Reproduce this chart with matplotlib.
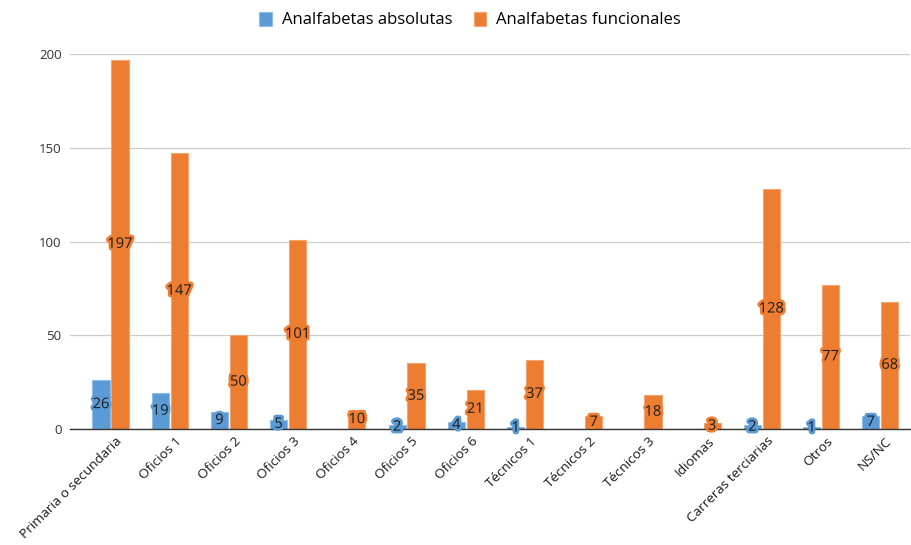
"""
Grouped bars: analfabetas absolutas vs funcionales por formación
"""
import matplotlib
matplotlib.use('Agg')
import matplotlib.pyplot as plt
import matplotlib.patheffects as pe
import matplotlib.transforms as mtransforms
import numpy as np

plt.rcParams.update({
    'font.family': ['Open Sans', 'DejaVu Sans'],
    'font.size': 10,
    'axes.spines.top': False,
    'axes.spines.right': False,
    'axes.spines.left': False,
})

BLUE = '#5B9BD5'
ORANGE = '#ED7D31'

# ── Data ────────────────────────────────────────────────────
categories = ['Primaria o secundaria', 'Oficios 1', 'Oficios 2', 'Oficios 3',
              'Oficios 4', 'Oficios 5', 'Oficios 6', 'Técnicos 1', 'Técnicos 2',
              'Técnicos 3', 'Idiomas', 'Carreras terciarias', 'Otros', 'NS/NC']
absolutas = [26, 19, 9, 5, 0, 2, 4, 1, 0, 0, 0, 2, 1, 7]
funcionales = [197, 147, 50, 101, 10, 35, 21, 37, 7, 18, 3, 128, 77, 68]

fig = plt.figure(figsize=(9.11, 5.45), dpi=100)
ax = fig.add_axes([0.0768, 0.2128, 0.922, 0.688])

x = np.arange(len(categories))
w = 0.29
off = 0.16
b1 = ax.bar(x - off, absolutas, w, color=BLUE, edgecolor='#8fbbe5', linewidth=0.8,
            label='Analfabetas absolutas', zorder=3)
b2 = ax.bar(x + off, funcionales, w, color=ORANGE, edgecolor='#f3a470', linewidth=0.8,
            label='Analfabetas funcionales', zorder=3)

for bars, vals, col in [(b1, absolutas, BLUE), (b2, funcionales, ORANGE)]:
    for bar, val in zip(bars, vals):
        if val == 0:
            continue
        ax.text(bar.get_x() + bar.get_width() / 2, val / 2, f'{val}',
                ha='center', va='center', fontsize=10.5, color='#1a1a1a', zorder=5,
                path_effects=[pe.withStroke(linewidth=4, foreground=col)])

ax.set_xlim(-0.685, 13.5)
ax.set_ylim(0, 200)
ax.set_yticks([0, 50, 100, 150, 200])
ax.yaxis.grid(True, color='#cccccc', linewidth=0.9)
ax.set_axisbelow(True)
ax.tick_params(axis='y', length=0, labelsize=9.5, colors='#333333', pad=6)
ax.tick_params(axis='x', length=0, labelsize=9.7, colors='#1a1a1a', pad=4)
ax.set_xticks(x)
ax.set_xticklabels(categories, rotation=45, ha='right', rotation_mode='anchor')
shift = mtransforms.ScaledTranslation(5 / 100, 0, fig.dpi_scale_trans)
for lbl in ax.get_xticklabels():
    lbl.set_transform(lbl.get_transform() + shift)
ax.spines['bottom'].set_color('#333333')
ax.spines['bottom'].set_linewidth(1.0)
ax.spines['bottom'].set_zorder(4)

fig.legend(handles=[b1, b2], loc='center', bbox_to_anchor=(0.516, 0.963), ncol=2,
           frameon=False, fontsize=12, handlelength=0.75, handleheight=0.9,
           handletextpad=0.6, columnspacing=1.3)

fig.savefig('out.png', dpi=100)
plt.close()
